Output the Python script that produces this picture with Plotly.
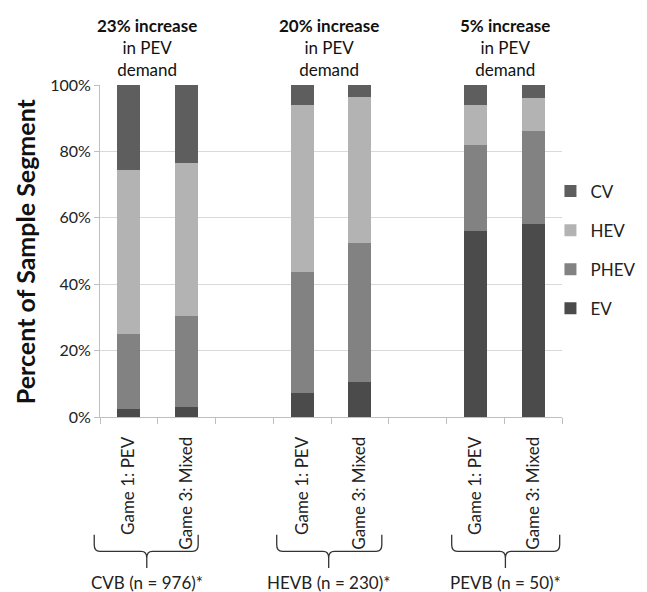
import plotly.graph_objects as go

# ---- data ----
categories = ["Game 1: PEV", "Game 3: Mixed", "", "Game 1: PEV", "Game 3: Mixed", "", "Game 1: PEV", "Game 3: Mixed"]
bar_slots = [0, 1, 3, 4, 6, 7]  # category index of each bar
ev = [2.4, 2.9, 7.2, 10.6, 56, 58]
phev = [22.5, 27.5, 36.5, 41.7, 26, 28]
hev = [49.4, 46.2, 50.4, 44.0, 12, 10]
cv = [25.7, 23.4, 5.9, 3.7, 6, 4]
group_titles = ["<b>23% increase</b><br>in PEV<br>demand",
                "<b>20% increase</b><br>in PEV<br>demand",
                "<b>5% increase</b><br>in PEV<br>demand"]
group_labels = ["CVB (n = 976)*", "HEVB (n = 230)*", "PEVB (n = 50)*"]
y_ticks = [0, 20, 40, 60, 80, 100]

FONT = "Lato, 'Open Sans', sans-serif"
series = [("EV", ev, "#4b4b4b", 4), ("PHEV", phev, "#828282", 3),
          ("HEV", hev, "#b3b3b3", 2), ("CV", cv, "#5e5e5e", 1)]

fig = go.Figure()
for name, vals, col, rank in series:
    fig.add_trace(go.Bar(x=bar_slots, y=vals, name=name, width=0.4,
                         marker=dict(color=col, line=dict(width=0)),
                         legendgroup=name, legendrank=rank))

n = len(categories)
def to_paper(xd):
    return (xd + 0.5) / n

# group brackets (x in data units)
brackets = [(-0.6, 0.31, 1.2), (2.56, 3.46, 4.38), (5.59, 6.52, 7.46)]
ytop, yh, ybot = -0.355, -0.405, -0.455
r = 0.012
for (x0, xm, x1), title, lab in zip(brackets, group_titles, group_labels):
    p0, pm, p1 = to_paper(x0), to_paper(xm), to_paper(x1)
    path = (f"M {p0},{ytop} L {p0},{yh+0.02} Q {p0},{yh} {p0+r},{yh} "
            f"L {pm-r},{yh} Q {pm},{yh} {pm},{yh-0.02} L {pm},{ybot} "
            f"M {pm},{yh-0.02} Q {pm},{yh} {pm+r},{yh} "
            f"L {p1-r},{yh} Q {p1},{yh} {p1},{yh+0.02} L {p1},{ytop}")
    fig.add_shape(type="path", path=path, xref="paper", yref="paper",
                  line=dict(color="#333333", width=1.3))
    fig.add_annotation(x=pm, y=-0.497, xref="paper", yref="paper",
                       text=lab, showarrow=False, xanchor="center", yanchor="middle",
                       font=dict(family=FONT, size=17, color="#222222"))
    fig.add_annotation(x=pm, y=1.113, xref="paper", yref="paper",
                       text=title, showarrow=False, xanchor="center", yanchor="middle",
                       font=dict(family=FONT, size=17, color="#111111"))

fig.add_annotation(x=-0.162, y=0.5, xref="paper", yref="paper",
                   text="<b>Percent of Sample Segment</b>", textangle=-90,
                   showarrow=False, xanchor="center", yanchor="middle",
                   font=dict(family=FONT, size=25, color="#111111"))

fig.update_layout(
    width=647, height=592,
    margin=dict(l=92, r=93, t=77, b=183),
    plot_bgcolor="white", paper_bgcolor="white",
    barmode="stack", bargap=0,
    font=dict(family=FONT, size=14, color="#222222"),
    legend=dict(x=0.975, xanchor="left", y=0.503, yanchor="middle",
                traceorder="grouped", tracegroupgap=14,
                font=dict(family=FONT, size=17, color="#222222"),
                bgcolor="rgba(0,0,0,0)"),
    xaxis=dict(range=[-0.5, n - 0.5], tickmode="array",
               tickvals=[i for i, c in enumerate(categories) if c],
               ticktext=[c for c in categories if c],
               tickangle=-90, ticks="", ticklabelstandoff=12,
               tickfont=dict(family=FONT, size=17, color="#222222"),
               showgrid=False, showline=True, linecolor="#bfbfbf", linewidth=1,
               zeroline=False,
               minor=dict(tickmode="linear", tick0=-0.5, dtick=1, ticks="outside",
                          ticklen=6, tickcolor="#bfbfbf", showgrid=False)),
    yaxis=dict(range=[0, 100], tickmode="array", tickvals=y_ticks,
               ticktext=[f"{v}%" for v in y_ticks],
               ticks="outside", ticklen=5, tickcolor="#bfbfbf",
               tickfont=dict(family=FONT, size=16, color="#222222"),
               showgrid=True, gridcolor="#d9d9d9", gridwidth=1,
               showline=True, linecolor="#bfbfbf", linewidth=1, zeroline=False),
)

fig.write_html("out.html")
